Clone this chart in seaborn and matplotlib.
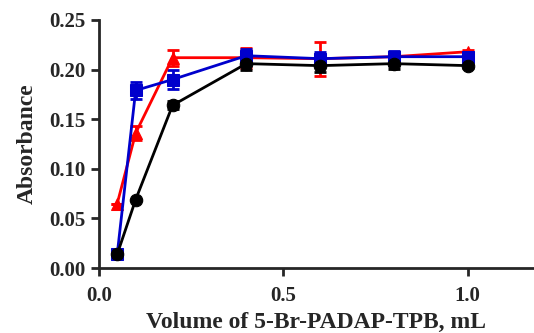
import numpy as np
import pandas as pd
import seaborn as sns
import matplotlib
matplotlib.use('Agg')
import matplotlib.pyplot as plt

# Data
volume = [0.05, 0.1, 0.2, 0.4, 0.6, 0.8, 1.0]

black_abs = [0.014, 0.069, 0.164, 0.206, 0.204, 0.206, 0.204]
black_err = [0.0, 0.0, 0.004, 0.006, 0.006, 0.005, 0.002]

red_abs = [0.065, 0.136, 0.212, 0.212, 0.211, 0.213, 0.218]
red_err = [0.0, 0.007, 0.008, 0.010, 0.017, 0.005, 0.002]

blue_abs = [0.014, 0.179, 0.190, 0.214, 0.211, 0.213, 0.213]
blue_err = [0.0, 0.009, 0.010, 0.007, 0.007, 0.006, 0.004]

sns.set_style('ticks')
plt.rcParams['font.family'] = ['Liberation Serif', 'DejaVu Serif']
plt.rcParams['font.weight'] = 'bold'

fig = plt.figure(figsize=(5.34, 3.33), dpi=100)
ax = fig.add_axes([0.185, 0.195, 0.815, 0.745])

series = [
    (red_abs, red_err, '#ff0000', '^'),
    (blue_abs, blue_err, '#0000cc', 's'),
    (black_abs, black_err, '#000000', 'o'),
]

for vals, errs, color, marker in series:
    df = pd.DataFrame({'x': volume, 'y': vals})
    ax.errorbar(volume, vals, yerr=errs, fmt='none', ecolor=color,
                elinewidth=2, capsize=4, capthick=2, zorder=2)
    sns.lineplot(data=df, x='x', y='y', ax=ax, color=color, marker=marker,
                 markersize=9, markeredgecolor=color, linewidth=2, zorder=3)

ax.set_xlim(0, 1.18)
ax.set_ylim(0, 0.25)
ax.set_xticks([0.0, 0.5, 1.0])
ax.set_xticklabels(['0.0', '0.5', '1.0'])
ax.set_yticks([0.0, 0.05, 0.10, 0.15, 0.20, 0.25])
ax.set_yticklabels(['0.00', '0.05', '0.10', '0.15', '0.20', '0.25'])

ax.set_xlabel('Volume of 5-Br-PADAP-TPB, mL', fontsize=17, fontweight='bold', labelpad=4)
ax.set_ylabel('Absorbance', fontsize=17, fontweight='bold', labelpad=8)
ax.tick_params(axis='both', labelsize=15, width=2, length=6, direction='out')
ax.tick_params(axis='x', pad=7)
for lbl in ax.get_xticklabels() + ax.get_yticklabels():
    lbl.set_fontweight('bold')

sns.despine(ax=ax)
ax.spines['left'].set_linewidth(2)
ax.spines['bottom'].set_linewidth(2)

fig.savefig('out.png', dpi=100)
